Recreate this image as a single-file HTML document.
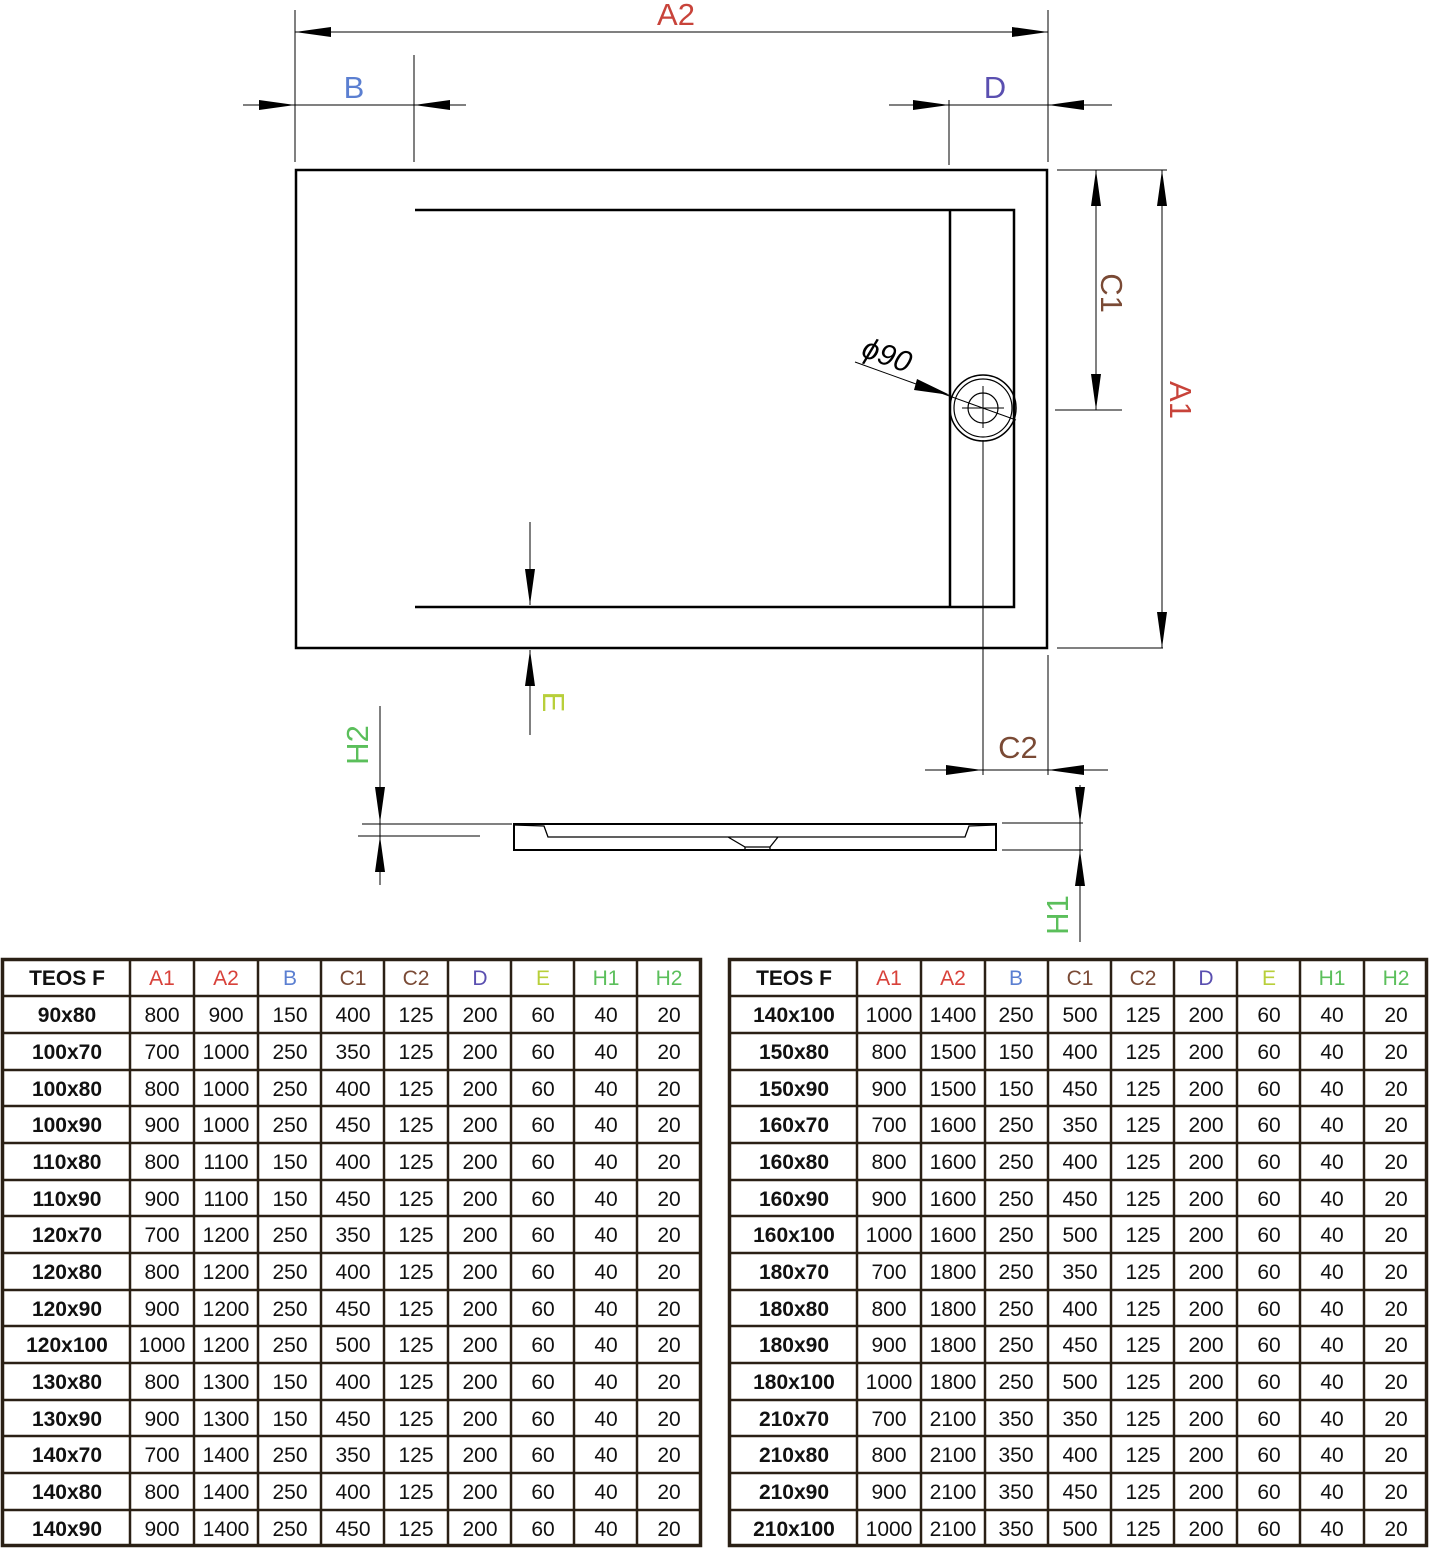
<!DOCTYPE html>
<html><head><meta charset="utf-8"><style>
html,body{margin:0;padding:0;background:#fff;width:1429px;height:1548px;overflow:hidden}
svg{position:absolute;left:0;top:0}
.t{font-family:"Liberation Sans Narrow","Liberation Sans",sans-serif;font-size:21px;fill:#111;text-anchor:middle}
.h{font-weight:bold}
.lbl{font-family:"Liberation Sans",sans-serif;font-size:31px;text-anchor:middle}
</style></head><body>
<svg width="1429" height="1548" viewBox="0 0 1429 1548">
<g stroke="#000" fill="none">
<rect x="296" y="170" width="751" height="478" stroke-width="2.5"/>
<path d="M415 210H1014V607H415M950 210V607" stroke-width="2.5"/>
<circle cx="983" cy="408" r="33" stroke-width="1.5"/>
<circle cx="983" cy="408" r="29" stroke-width="1.2"/>
<circle cx="983" cy="408" r="15" stroke-width="1.2"/>
<path d="M962 408H1004M983 386V428M983 440V775M855 362L1016 420" stroke-width="1"/>
<path d="M295 10V162M1048 10V162M414 55V162M949 100V165M295 32H1048M243 105H466M889 105H1112M1057 170H1167M1057 648H1163M1162 170V648M1096 170V410M1055 410H1122M530 522V605M530 650V735M1048 655V775M925 770H1108M380 706V885M362 824H512M358 836H480M1080 785V942M1002 823H1083M1002 850H1083" stroke-width="1"/>
<rect x="514" y="824" width="482" height="26" stroke-width="2"/>
<path d="M514 825L544 826L548 837H965L969 826L996 825M728 837L745 847H770L778 837M745 847V850M770 847V850" stroke-width="1.3"/>
</g>
<g fill="#000">
<path d="M295 32l36-5v10zM1048 32l-36-5v10z"/>
<path d="M295 105l-36-5v10zM414 105l36-5v10z"/>
<path d="M949 105l-36-5v10zM1048 105l36-5v10z"/>
<path d="M1162 170l-5 36h10zM1162 648l-5-36h10z"/>
<path d="M1096 170l-5 36h10zM1096 410l-5-36h10z"/>
<path d="M950 395l-36-5 3-11z"/>
<path d="M530 605l-5-36h10zM530 650l-5 36h10z"/>
<path d="M982 770l-36-5v10zM1048 770l36-5v10z"/>
<path d="M380 823l-5-36h10zM380 836l-5 36h10z"/>
<path d="M1080 823l-5-36h10zM1080 850l-5 36h10z"/>
</g>
<text class="lbl" x="676" y="25" fill="#c8433a">A2</text>
<text class="lbl" x="354" y="98" fill="#5b7fd1">B</text>
<text class="lbl" x="995" y="98" fill="#5a4fb0">D</text>
<text class="lbl" fill="#c8433a" transform="translate(1170,400) rotate(90)">A1</text>
<text class="lbl" fill="#7a4a35" transform="translate(1101,293) rotate(90)">C1</text>
<text class="lbl" fill="#b8cf3a" transform="translate(543,702) rotate(90)">E</text>
<text class="lbl" x="1018" y="758" fill="#7a4a35">C2</text>
<text class="lbl" fill="#5bbf5b" transform="translate(368,745) rotate(-90)">H2</text>
<text class="lbl" fill="#5bbf5b" transform="translate(1068,915) rotate(-90)">H1</text>
<text font-family="Liberation Sans,sans-serif" font-size="30" font-style="italic" fill="#000" transform="translate(860,356) rotate(20)">ϕ90</text>

<g stroke="#2a2015" fill="none">
<rect x="2.5" y="959.5" width="698" height="586" stroke-width="3.5"/>
<path stroke-width="2.5" d="M130 959V1546M194 959V1546M258 959V1546M321 959V1546M384 959V1546M448 959V1546M511 959V1546M574 959V1546M637 959V1546M2 996H701M2 1033H701M2 1070H701M2 1106H701M2 1143H701M2 1180H701M2 1216H701M2 1253H701M2 1290H701M2 1326H701M2 1363H701M2 1400H701M2 1436H701M2 1473H701M2 1510H701"/>
<rect x="729.5" y="959.5" width="697" height="586" stroke-width="3.5"/>
<path stroke-width="2.5" d="M857 959V1546M921 959V1546M985 959V1546M1048 959V1546M1111 959V1546M1174 959V1546M1237 959V1546M1300 959V1546M1364 959V1546M728 996H1427M728 1033H1427M728 1070H1427M728 1106H1427M728 1143H1427M728 1180H1427M728 1216H1427M728 1253H1427M728 1290H1427M728 1326H1427M728 1363H1427M728 1400H1427M728 1436H1427M728 1473H1427M728 1510H1427"/>
</g>
<g>
<text class="t h" x="67" y="985">TEOS F</text><text class="t" x="162" y="985" style="fill:#d8413a">A1</text><text class="t" x="226" y="985" style="fill:#d8413a">A2</text><text class="t" x="290" y="985" style="fill:#5b7fd1">B</text><text class="t" x="353" y="985" style="fill:#7a4a35">C1</text><text class="t" x="416" y="985" style="fill:#7a4a35">C2</text><text class="t" x="480" y="985" style="fill:#5a4fb0">D</text><text class="t" x="543" y="985" style="fill:#b8cf3a">E</text><text class="t" x="606" y="985" style="fill:#5bbf5b">H1</text><text class="t" x="669" y="985" style="fill:#5bbf5b">H2</text>
<text class="t h" x="794" y="985">TEOS F</text><text class="t" x="889" y="985" style="fill:#d8413a">A1</text><text class="t" x="953" y="985" style="fill:#d8413a">A2</text><text class="t" x="1016" y="985" style="fill:#5b7fd1">B</text><text class="t" x="1080" y="985" style="fill:#7a4a35">C1</text><text class="t" x="1143" y="985" style="fill:#7a4a35">C2</text><text class="t" x="1206" y="985" style="fill:#5a4fb0">D</text><text class="t" x="1269" y="985" style="fill:#b8cf3a">E</text><text class="t" x="1332" y="985" style="fill:#5bbf5b">H1</text><text class="t" x="1396" y="985" style="fill:#5bbf5b">H2</text>
</g>
<g>
<text x="67" y="1022" class="t h">90x80</text><text x="162" y="1022" class="t">800</text><text x="226" y="1022" class="t">900</text><text x="290" y="1022" class="t">150</text><text x="353" y="1022" class="t">400</text><text x="416" y="1022" class="t">125</text><text x="480" y="1022" class="t">200</text><text x="543" y="1022" class="t">60</text><text x="606" y="1022" class="t">40</text><text x="669" y="1022" class="t">20</text>
<text x="67" y="1059" class="t h">100x70</text><text x="162" y="1059" class="t">700</text><text x="226" y="1059" class="t">1000</text><text x="290" y="1059" class="t">250</text><text x="353" y="1059" class="t">350</text><text x="416" y="1059" class="t">125</text><text x="480" y="1059" class="t">200</text><text x="543" y="1059" class="t">60</text><text x="606" y="1059" class="t">40</text><text x="669" y="1059" class="t">20</text>
<text x="67" y="1096" class="t h">100x80</text><text x="162" y="1096" class="t">800</text><text x="226" y="1096" class="t">1000</text><text x="290" y="1096" class="t">250</text><text x="353" y="1096" class="t">400</text><text x="416" y="1096" class="t">125</text><text x="480" y="1096" class="t">200</text><text x="543" y="1096" class="t">60</text><text x="606" y="1096" class="t">40</text><text x="669" y="1096" class="t">20</text>
<text x="67" y="1132" class="t h">100x90</text><text x="162" y="1132" class="t">900</text><text x="226" y="1132" class="t">1000</text><text x="290" y="1132" class="t">250</text><text x="353" y="1132" class="t">450</text><text x="416" y="1132" class="t">125</text><text x="480" y="1132" class="t">200</text><text x="543" y="1132" class="t">60</text><text x="606" y="1132" class="t">40</text><text x="669" y="1132" class="t">20</text>
<text x="67" y="1169" class="t h">110x80</text><text x="162" y="1169" class="t">800</text><text x="226" y="1169" class="t">1100</text><text x="290" y="1169" class="t">150</text><text x="353" y="1169" class="t">400</text><text x="416" y="1169" class="t">125</text><text x="480" y="1169" class="t">200</text><text x="543" y="1169" class="t">60</text><text x="606" y="1169" class="t">40</text><text x="669" y="1169" class="t">20</text>
<text x="67" y="1206" class="t h">110x90</text><text x="162" y="1206" class="t">900</text><text x="226" y="1206" class="t">1100</text><text x="290" y="1206" class="t">150</text><text x="353" y="1206" class="t">450</text><text x="416" y="1206" class="t">125</text><text x="480" y="1206" class="t">200</text><text x="543" y="1206" class="t">60</text><text x="606" y="1206" class="t">40</text><text x="669" y="1206" class="t">20</text>
<text x="67" y="1242" class="t h">120x70</text><text x="162" y="1242" class="t">700</text><text x="226" y="1242" class="t">1200</text><text x="290" y="1242" class="t">250</text><text x="353" y="1242" class="t">350</text><text x="416" y="1242" class="t">125</text><text x="480" y="1242" class="t">200</text><text x="543" y="1242" class="t">60</text><text x="606" y="1242" class="t">40</text><text x="669" y="1242" class="t">20</text>
<text x="67" y="1279" class="t h">120x80</text><text x="162" y="1279" class="t">800</text><text x="226" y="1279" class="t">1200</text><text x="290" y="1279" class="t">250</text><text x="353" y="1279" class="t">400</text><text x="416" y="1279" class="t">125</text><text x="480" y="1279" class="t">200</text><text x="543" y="1279" class="t">60</text><text x="606" y="1279" class="t">40</text><text x="669" y="1279" class="t">20</text>
<text x="67" y="1316" class="t h">120x90</text><text x="162" y="1316" class="t">900</text><text x="226" y="1316" class="t">1200</text><text x="290" y="1316" class="t">250</text><text x="353" y="1316" class="t">450</text><text x="416" y="1316" class="t">125</text><text x="480" y="1316" class="t">200</text><text x="543" y="1316" class="t">60</text><text x="606" y="1316" class="t">40</text><text x="669" y="1316" class="t">20</text>
<text x="67" y="1352" class="t h">120x100</text><text x="162" y="1352" class="t">1000</text><text x="226" y="1352" class="t">1200</text><text x="290" y="1352" class="t">250</text><text x="353" y="1352" class="t">500</text><text x="416" y="1352" class="t">125</text><text x="480" y="1352" class="t">200</text><text x="543" y="1352" class="t">60</text><text x="606" y="1352" class="t">40</text><text x="669" y="1352" class="t">20</text>
<text x="67" y="1389" class="t h">130x80</text><text x="162" y="1389" class="t">800</text><text x="226" y="1389" class="t">1300</text><text x="290" y="1389" class="t">150</text><text x="353" y="1389" class="t">400</text><text x="416" y="1389" class="t">125</text><text x="480" y="1389" class="t">200</text><text x="543" y="1389" class="t">60</text><text x="606" y="1389" class="t">40</text><text x="669" y="1389" class="t">20</text>
<text x="67" y="1426" class="t h">130x90</text><text x="162" y="1426" class="t">900</text><text x="226" y="1426" class="t">1300</text><text x="290" y="1426" class="t">150</text><text x="353" y="1426" class="t">450</text><text x="416" y="1426" class="t">125</text><text x="480" y="1426" class="t">200</text><text x="543" y="1426" class="t">60</text><text x="606" y="1426" class="t">40</text><text x="669" y="1426" class="t">20</text>
<text x="67" y="1462" class="t h">140x70</text><text x="162" y="1462" class="t">700</text><text x="226" y="1462" class="t">1400</text><text x="290" y="1462" class="t">250</text><text x="353" y="1462" class="t">350</text><text x="416" y="1462" class="t">125</text><text x="480" y="1462" class="t">200</text><text x="543" y="1462" class="t">60</text><text x="606" y="1462" class="t">40</text><text x="669" y="1462" class="t">20</text>
<text x="67" y="1499" class="t h">140x80</text><text x="162" y="1499" class="t">800</text><text x="226" y="1499" class="t">1400</text><text x="290" y="1499" class="t">250</text><text x="353" y="1499" class="t">400</text><text x="416" y="1499" class="t">125</text><text x="480" y="1499" class="t">200</text><text x="543" y="1499" class="t">60</text><text x="606" y="1499" class="t">40</text><text x="669" y="1499" class="t">20</text>
<text x="67" y="1536" class="t h">140x90</text><text x="162" y="1536" class="t">900</text><text x="226" y="1536" class="t">1400</text><text x="290" y="1536" class="t">250</text><text x="353" y="1536" class="t">450</text><text x="416" y="1536" class="t">125</text><text x="480" y="1536" class="t">200</text><text x="543" y="1536" class="t">60</text><text x="606" y="1536" class="t">40</text><text x="669" y="1536" class="t">20</text>

<text x="794" y="1022" class="t h">140x100</text><text x="889" y="1022" class="t">1000</text><text x="953" y="1022" class="t">1400</text><text x="1016" y="1022" class="t">250</text><text x="1080" y="1022" class="t">500</text><text x="1143" y="1022" class="t">125</text><text x="1206" y="1022" class="t">200</text><text x="1269" y="1022" class="t">60</text><text x="1332" y="1022" class="t">40</text><text x="1396" y="1022" class="t">20</text>
<text x="794" y="1059" class="t h">150x80</text><text x="889" y="1059" class="t">800</text><text x="953" y="1059" class="t">1500</text><text x="1016" y="1059" class="t">150</text><text x="1080" y="1059" class="t">400</text><text x="1143" y="1059" class="t">125</text><text x="1206" y="1059" class="t">200</text><text x="1269" y="1059" class="t">60</text><text x="1332" y="1059" class="t">40</text><text x="1396" y="1059" class="t">20</text>
<text x="794" y="1096" class="t h">150x90</text><text x="889" y="1096" class="t">900</text><text x="953" y="1096" class="t">1500</text><text x="1016" y="1096" class="t">150</text><text x="1080" y="1096" class="t">450</text><text x="1143" y="1096" class="t">125</text><text x="1206" y="1096" class="t">200</text><text x="1269" y="1096" class="t">60</text><text x="1332" y="1096" class="t">40</text><text x="1396" y="1096" class="t">20</text>
<text x="794" y="1132" class="t h">160x70</text><text x="889" y="1132" class="t">700</text><text x="953" y="1132" class="t">1600</text><text x="1016" y="1132" class="t">250</text><text x="1080" y="1132" class="t">350</text><text x="1143" y="1132" class="t">125</text><text x="1206" y="1132" class="t">200</text><text x="1269" y="1132" class="t">60</text><text x="1332" y="1132" class="t">40</text><text x="1396" y="1132" class="t">20</text>
<text x="794" y="1169" class="t h">160x80</text><text x="889" y="1169" class="t">800</text><text x="953" y="1169" class="t">1600</text><text x="1016" y="1169" class="t">250</text><text x="1080" y="1169" class="t">400</text><text x="1143" y="1169" class="t">125</text><text x="1206" y="1169" class="t">200</text><text x="1269" y="1169" class="t">60</text><text x="1332" y="1169" class="t">40</text><text x="1396" y="1169" class="t">20</text>
<text x="794" y="1206" class="t h">160x90</text><text x="889" y="1206" class="t">900</text><text x="953" y="1206" class="t">1600</text><text x="1016" y="1206" class="t">250</text><text x="1080" y="1206" class="t">450</text><text x="1143" y="1206" class="t">125</text><text x="1206" y="1206" class="t">200</text><text x="1269" y="1206" class="t">60</text><text x="1332" y="1206" class="t">40</text><text x="1396" y="1206" class="t">20</text>
<text x="794" y="1242" class="t h">160x100</text><text x="889" y="1242" class="t">1000</text><text x="953" y="1242" class="t">1600</text><text x="1016" y="1242" class="t">250</text><text x="1080" y="1242" class="t">500</text><text x="1143" y="1242" class="t">125</text><text x="1206" y="1242" class="t">200</text><text x="1269" y="1242" class="t">60</text><text x="1332" y="1242" class="t">40</text><text x="1396" y="1242" class="t">20</text>
<text x="794" y="1279" class="t h">180x70</text><text x="889" y="1279" class="t">700</text><text x="953" y="1279" class="t">1800</text><text x="1016" y="1279" class="t">250</text><text x="1080" y="1279" class="t">350</text><text x="1143" y="1279" class="t">125</text><text x="1206" y="1279" class="t">200</text><text x="1269" y="1279" class="t">60</text><text x="1332" y="1279" class="t">40</text><text x="1396" y="1279" class="t">20</text>
<text x="794" y="1316" class="t h">180x80</text><text x="889" y="1316" class="t">800</text><text x="953" y="1316" class="t">1800</text><text x="1016" y="1316" class="t">250</text><text x="1080" y="1316" class="t">400</text><text x="1143" y="1316" class="t">125</text><text x="1206" y="1316" class="t">200</text><text x="1269" y="1316" class="t">60</text><text x="1332" y="1316" class="t">40</text><text x="1396" y="1316" class="t">20</text>
<text x="794" y="1352" class="t h">180x90</text><text x="889" y="1352" class="t">900</text><text x="953" y="1352" class="t">1800</text><text x="1016" y="1352" class="t">250</text><text x="1080" y="1352" class="t">450</text><text x="1143" y="1352" class="t">125</text><text x="1206" y="1352" class="t">200</text><text x="1269" y="1352" class="t">60</text><text x="1332" y="1352" class="t">40</text><text x="1396" y="1352" class="t">20</text>
<text x="794" y="1389" class="t h">180x100</text><text x="889" y="1389" class="t">1000</text><text x="953" y="1389" class="t">1800</text><text x="1016" y="1389" class="t">250</text><text x="1080" y="1389" class="t">500</text><text x="1143" y="1389" class="t">125</text><text x="1206" y="1389" class="t">200</text><text x="1269" y="1389" class="t">60</text><text x="1332" y="1389" class="t">40</text><text x="1396" y="1389" class="t">20</text>
<text x="794" y="1426" class="t h">210x70</text><text x="889" y="1426" class="t">700</text><text x="953" y="1426" class="t">2100</text><text x="1016" y="1426" class="t">350</text><text x="1080" y="1426" class="t">350</text><text x="1143" y="1426" class="t">125</text><text x="1206" y="1426" class="t">200</text><text x="1269" y="1426" class="t">60</text><text x="1332" y="1426" class="t">40</text><text x="1396" y="1426" class="t">20</text>
<text x="794" y="1462" class="t h">210x80</text><text x="889" y="1462" class="t">800</text><text x="953" y="1462" class="t">2100</text><text x="1016" y="1462" class="t">350</text><text x="1080" y="1462" class="t">400</text><text x="1143" y="1462" class="t">125</text><text x="1206" y="1462" class="t">200</text><text x="1269" y="1462" class="t">60</text><text x="1332" y="1462" class="t">40</text><text x="1396" y="1462" class="t">20</text>
<text x="794" y="1499" class="t h">210x90</text><text x="889" y="1499" class="t">900</text><text x="953" y="1499" class="t">2100</text><text x="1016" y="1499" class="t">350</text><text x="1080" y="1499" class="t">450</text><text x="1143" y="1499" class="t">125</text><text x="1206" y="1499" class="t">200</text><text x="1269" y="1499" class="t">60</text><text x="1332" y="1499" class="t">40</text><text x="1396" y="1499" class="t">20</text>
<text x="794" y="1536" class="t h">210x100</text><text x="889" y="1536" class="t">1000</text><text x="953" y="1536" class="t">2100</text><text x="1016" y="1536" class="t">350</text><text x="1080" y="1536" class="t">500</text><text x="1143" y="1536" class="t">125</text><text x="1206" y="1536" class="t">200</text><text x="1269" y="1536" class="t">60</text><text x="1332" y="1536" class="t">40</text><text x="1396" y="1536" class="t">20</text>
</g>
</svg>
</body></html>
